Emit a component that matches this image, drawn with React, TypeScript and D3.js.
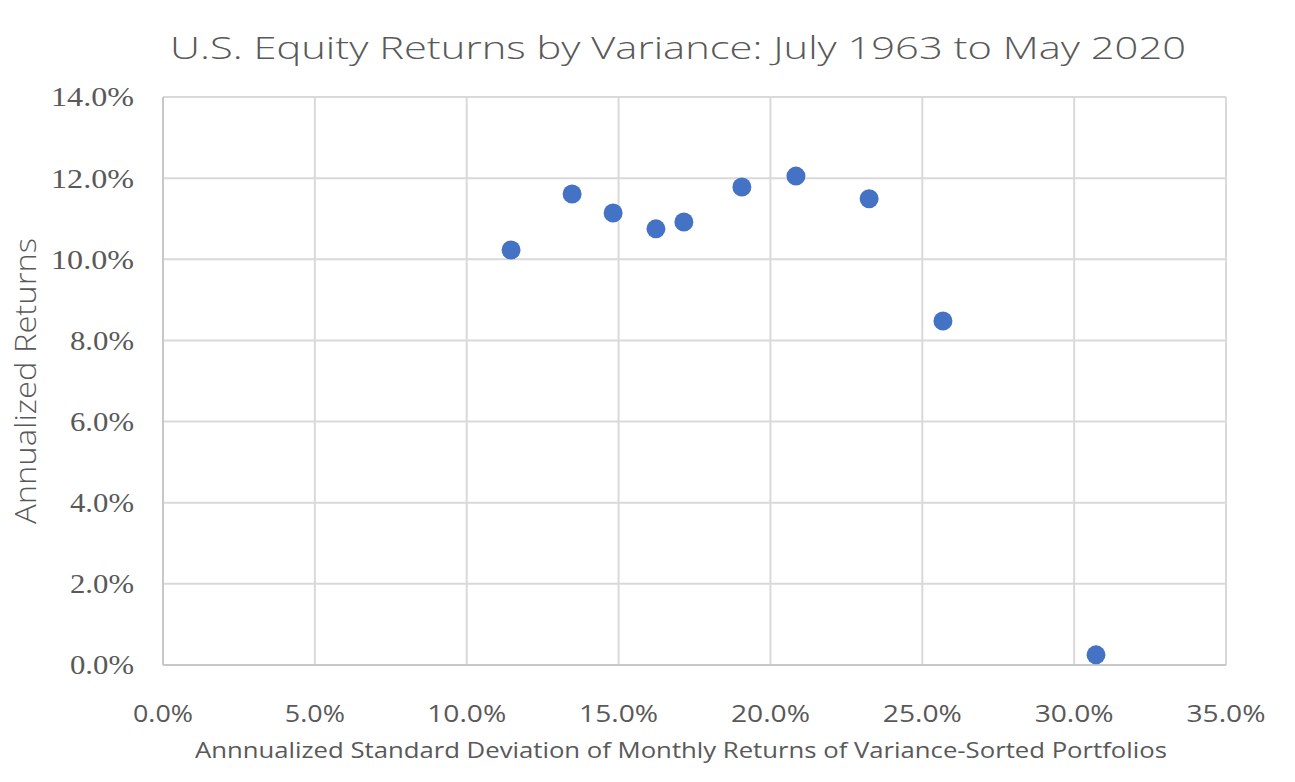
import * as d3 from 'd3';

const stdDev = [11.46, 13.47, 14.82, 16.23, 17.15, 19.06, 20.84, 23.25, 25.68, 30.72];
const annualReturn = [10.23, 11.61, 11.14, 10.75, 10.92, 11.78, 12.05, 11.49, 8.48, 0.25];
const xTicks = [0, 5, 10, 15, 20, 25, 30, 35];
const yTicks = [0, 2, 4, 6, 8, 10, 12, 14];

const title = 'U.S. Equity Returns by Variance: July 1963 to May 2020';
const xTitle = 'Annnualized Standard Deviation of Monthly Returns of Variance-Sorted Portfolios';
const yTitle = 'Annualized Returns';

export default function App() {
  const width = 1295;
  const height = 782;
  const margin = { left: 163, right: 1226, top: 97, bottom: 665 };

  const x = d3.scaleLinear().domain([0, 35]).range([margin.left, margin.right]);
  const y = d3.scaleLinear().domain([0, 14]).range([margin.bottom, margin.top]);
  const fmt = d3.format('.1f');
  const font = "'Open Sans', 'Liberation Sans', sans-serif";
  const serif = "'Liberation Serif', 'DejaVu Serif', serif";
  const textColor = '#595959';

  return (
    <svg width={width} height={height} style={{ position: 'absolute', left: 0, top: 0, background: '#fff' }}>
      <text x={678} y={59} textAnchor="middle" fontFamily={font} fontWeight={300} fontSize={31}
        fill={textColor} textLength={1016} lengthAdjust="spacingAndGlyphs">{title}</text>

      {/* grid */}
      {xTicks.map((t) => (
        <line key={'gx' + t} x1={x(t)} x2={x(t)} y1={y(14)} y2={y(0)} stroke="#d9d9d9" strokeWidth={2} />
      ))}
      {yTicks.map((t) => (
        <line key={'gy' + t} x1={x(0)} x2={x(35)} y1={y(t)} y2={y(t)} stroke="#d9d9d9" strokeWidth={2} />
      ))}
      <line x1={x(0)} x2={x(0)} y1={y(14)} y2={y(0)} stroke="#c8c8c8" strokeWidth={2} />
      <line x1={x(0)} x2={x(35)} y1={y(0)} y2={y(0)} stroke="#c8c8c8" strokeWidth={2} />

      {/* tick labels */}
      {yTicks.map((t) => {
        const label = fmt(t) + '%';
        return (
          <text key={'ly' + t} x={134} y={y(t)} dy="0.35em" textAnchor="end" fontFamily={serif}
            fontSize={27} fill={textColor} textLength={label.length === 4 ? 64 : 83}
            lengthAdjust="spacingAndGlyphs">{label}</text>
        );
      })}
      {xTicks.map((t) => {
        const label = fmt(t) + '%';
        return (
          <text key={'lx' + t} x={x(t)} y={722} textAnchor="middle" fontFamily={font}
            fontSize={24} fill={textColor} textLength={label.length === 4 ? 60 : 79}
            lengthAdjust="spacingAndGlyphs">{label}</text>
        );
      })}

      <text x={681} y={758} textAnchor="middle" fontFamily={font} fontSize={21} fill={textColor}
        textLength={972} lengthAdjust="spacingAndGlyphs">{xTitle}</text>
      <text transform={`translate(36, 381) rotate(-90)`} textAnchor="middle" fontFamily={font}
        fontWeight={300} fontSize={30} fill={textColor} textLength={286}
        lengthAdjust="spacingAndGlyphs">{yTitle}</text>

      {stdDev.map((s, i) => (
        <circle key={i} cx={x(s)} cy={y(annualReturn[i])} r={9.5} fill="#4472c4" />
      ))}
    </svg>
  );
}
